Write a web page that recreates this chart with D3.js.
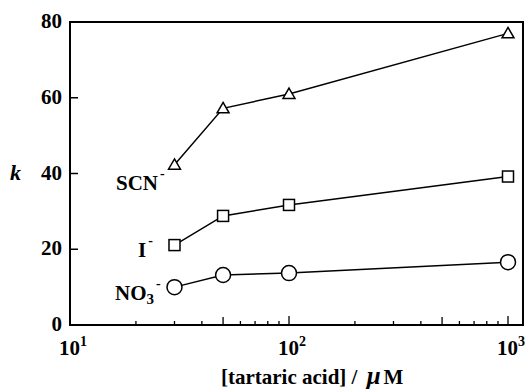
<!DOCTYPE html>
<html>
<head>
<meta charset="utf-8">
<script src="https://cdn.jsdelivr.net/npm/d3@7"></script>
<style>
  body { margin: 0; background: #fff; }
  svg text { font-family: "Liberation Serif", "Times New Roman", serif; font-weight: bold; fill: #000; }
</style>
</head>
<body>
<div id="host"><svg></svg></div>
<script>
const WIDTH = 526;
const HEIGHT = 390;

const CONC = [30, 50, 100, 1000];
const SCN = [42.3, 57.2, 61, 77];
const IODIDE = [21.1, 28.8, 31.7, 39.2];
const NITRATE = [10, 13.2, 13.7, 16.6];

const Y_TICKS = [0, 20, 40, 60, 80];
const X_DECADES = [1, 2, 3];

const LEFT = 70;
const RIGHT = 523;
const TOP = 22;
const BOTTOM = 325;

const x = d3.scaleLog().domain([10, Math.pow(10, 3 + 15 / 219)]).range([LEFT, RIGHT]);
const y = d3.scaleLinear().domain([0, 80]).range([BOTTOM, TOP]);

const svg = d3.select("#host svg").attr("width", WIDTH).attr("height", HEIGHT);

// frame
svg.append("rect")
  .attr("x", LEFT).attr("y", TOP)
  .attr("width", RIGHT - LEFT).attr("height", BOTTOM - TOP)
  .attr("fill", "none").attr("stroke", "#000").attr("stroke-width", 2);

// x ticks (inward)
const minor = [];
for (let d = 10; d < 1000; d *= 10) {
  for (let m = 2; m <= 9; m++) minor.push(d * m);
}
svg.append("g").selectAll("line").data(minor).join("line")
  .attr("x1", (d) => x(d)).attr("x2", (d) => x(d))
  .attr("y1", BOTTOM)
  .attr("y2", (d) => BOTTOM - (String(d)[0] === "5" ? 8 : 4))
  .attr("stroke", "#000").attr("stroke-width", 1.3);
svg.append("g").selectAll("line").data([100, 1000]).join("line")
  .attr("x1", (d) => x(d)).attr("x2", (d) => x(d))
  .attr("y1", BOTTOM).attr("y2", BOTTOM - 9)
  .attr("stroke", "#000").attr("stroke-width", 1.3);

// y ticks (inward)
svg.append("g").selectAll("line").data(Y_TICKS.slice(1, -1)).join("line")
  .attr("x1", LEFT).attr("x2", LEFT + 8)
  .attr("y1", (d) => y(d)).attr("y2", (d) => y(d))
  .attr("stroke", "#000").attr("stroke-width", 1.5);

svg.append("g").selectAll("text").data(Y_TICKS).join("text")
  .attr("x", 62).attr("y", (d) => y(d) + 6)
  .attr("text-anchor", "end")
  .attr("font-size", 21)
  .text((d) => d);

// x tick labels 10^n
const xl = svg.append("g").selectAll("text").data(X_DECADES).join("text")
  .attr("x", (d) => x(Math.pow(10, d)) + 3)
  .attr("y", 355)
  .attr("text-anchor", "middle")
  .attr("font-size", 21);
xl.append("tspan").text("10");
xl.append("tspan").attr("dy", -9).attr("font-size", 14).text((d) => d);

// axis titles
svg.append("text")
  .attr("x", 10).attr("y", 180)
  .attr("font-size", 22).attr("font-style", "italic")
  .text("k");

const xt = svg.append("text")
  .attr("x", 221).attr("y", 384)
  .attr("font-size", 21);
xt.append("tspan").text("[tartaric acid] / ");
xt.append("tspan").attr("dx", 4).attr("font-style", "italic").attr("font-size", 25).text("\u03bc");
xt.append("tspan").attr("dx", 3).text("M");

// series
const line = d3.line().x((d) => x(d[0])).y((d) => y(d[1]));

function series(values) {
  const pts = CONC.map((c, i) => [c, values[i]]);
  svg.append("path").datum(pts)
    .attr("d", line)
    .attr("fill", "none").attr("stroke", "#000").attr("stroke-width", 1.5);
  return pts;
}

const tri = series(SCN);
svg.append("g").selectAll("path").data(tri).join("path")
  .attr("d", d3.symbol(d3.symbolTriangle, 62)())
  .attr("transform", (d) => `translate(${x(d[0])},${y(d[1]) + 1})`)
  .attr("fill", "#fff").attr("stroke", "#000").attr("stroke-width", 1.5);

const sq = series(IODIDE);
svg.append("g").selectAll("rect").data(sq).join("rect")
  .attr("x", (d) => x(d[0]) - 5.5).attr("y", (d) => y(d[1]) - 5.5)
  .attr("width", 11).attr("height", 11)
  .attr("fill", "#fff").attr("stroke", "#000").attr("stroke-width", 1.5);

const circ = series(NITRATE);
svg.append("g").selectAll("circle").data(circ).join("circle")
  .attr("cx", (d) => x(d[0])).attr("cy", (d) => y(d[1]))
  .attr("r", 7.5)
  .attr("fill", "#fff").attr("stroke", "#000").attr("stroke-width", 1.5);

// series labels
const lab1 = svg.append("text").attr("x", 116).attr("y", 190).attr("font-size", 21);
lab1.append("tspan").text("SCN");
lab1.append("tspan").attr("dy", -12).attr("dx", 2).attr("font-size", 14).text("-");

const lab2 = svg.append("text").attr("x", 138).attr("y", 257).attr("font-size", 21);
lab2.append("tspan").text("I");
lab2.append("tspan").attr("dy", -12).attr("dx", 2).attr("font-size", 14).text("-");

const lab3 = svg.append("text").attr("x", 115).attr("y", 300).attr("font-size", 21);
lab3.append("tspan").text("NO");
lab3.append("tspan").attr("dy", 4).attr("font-size", 15).text("3");
lab3.append("tspan").attr("dy", -16).attr("dx", 2).attr("font-size", 14).text("-");
</script>
</body>
</html>
